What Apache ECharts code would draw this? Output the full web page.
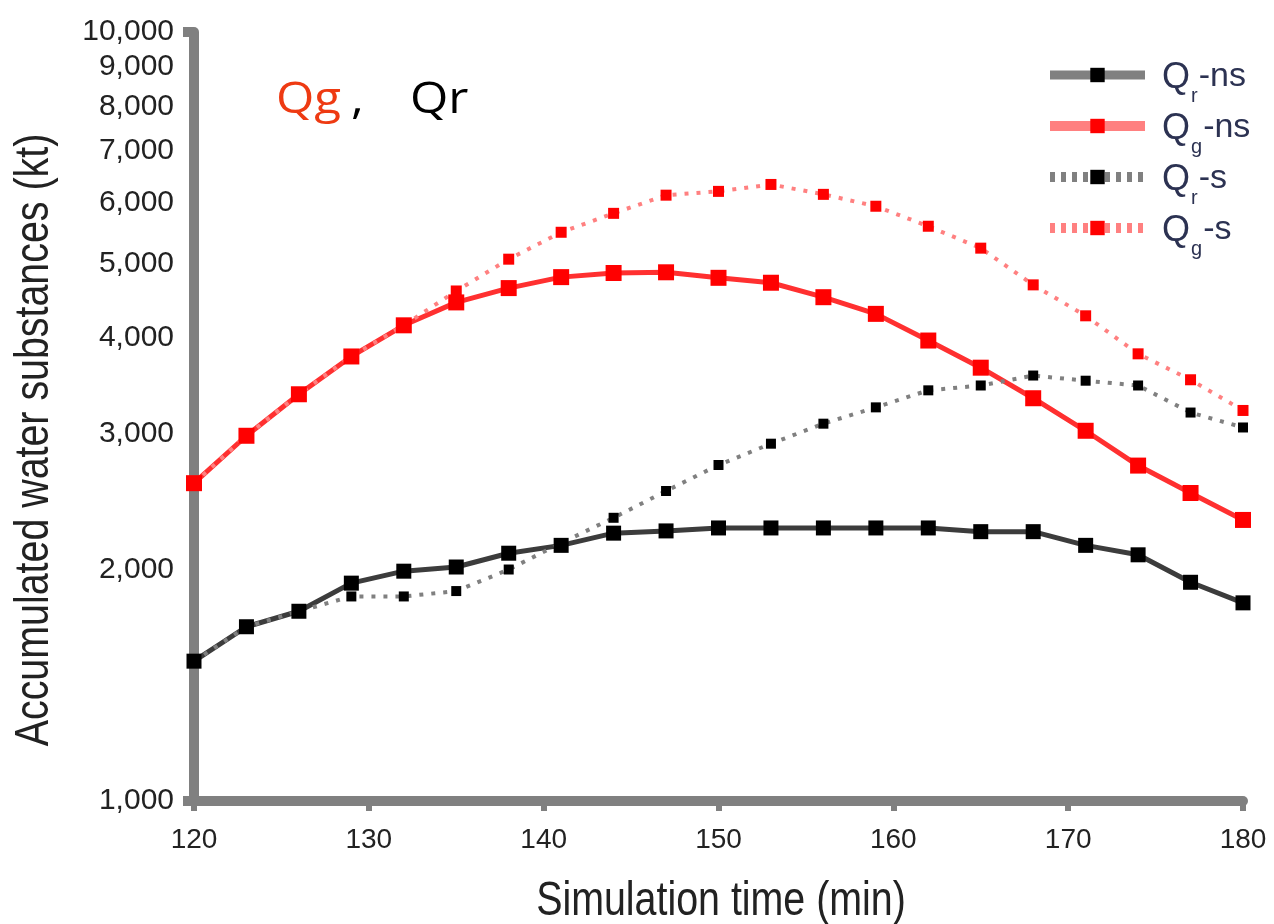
<!DOCTYPE html>
<html>
<head>
<meta charset="utf-8">
<title>Accumulated water substances</title>
<script src="https://cdn.jsdelivr.net/npm/echarts@6/dist/echarts.min.js"></script>
<style>
  html, body { margin: 0; padding: 0; background: #ffffff; }
  #chart { width: 1274px; height: 924px; }
</style>
</head>
<body>
<div id="chart"></div>
<script>
// Simulation time (min)
const times = [120, 123, 126, 129, 132, 135, 138, 141, 144, 147, 150,
               153, 156, 159, 162, 165, 168, 171, 174, 177, 180];

// Accumulated water substances (kt)
const qrNs = [1520, 1685, 1765, 1920, 1990, 2015, 2100, 2150, 2230, 2245, 2265,
              2265, 2265, 2265, 2265, 2240, 2240, 2150, 2090, 1925, 1810];
const qgNs = [2590, 2985, 3380, 3785, 4155, 4450, 4645, 4800, 4860, 4870, 4790,
              4720, 4520, 4300, 3970, 3660, 3340, 3030, 2730, 2515, 2320];
const qrS  = [1520, 1685, 1765, 1845, 1845, 1875, 2000, 2165, 2335, 2530, 2735,
              2915, 3095, 3250, 3420, 3470, 3575, 3520, 3470, 3200, 3060];
const qgS  = [2590, 2985, 3380, 3785, 4155, 4605, 5065, 5490, 5810, 6135, 6205,
              6335, 6150, 5935, 5590, 5235, 4690, 4275, 3815, 3530, 3220];

// Tick labels
const yTickValues = [1000, 2000, 3000, 4000, 5000, 6000, 7000, 8000, 9000, 10000];
const xTickValues = [120, 130, 140, 150, 160, 170, 180];

const SANS = "'Liberation Sans', Arial, sans-serif";
const TITLE_FONT = "'Open Sans', Lato, sans-serif";
const AXIS_GREY = '#808080';
const LEGEND_TEXT = '#2c3252';
// Horizontal squeeze that gives the axis titles a narrow face
const NARROW_SCALE = 0.82;
// Slight horizontal stretch for the "Qg, Qr" caption
const CAPTION_SCALE = 1.12;

const pairs = arr => times.map((t, i) => [t, arr[i]]);

const chart = echarts.init(document.getElementById('chart'), null, { renderer: 'canvas' });

const captionStyle = (text, fill) => ({
  text: text, font: '44px ' + TITLE_FONT, fill: fill,
  align: 'left', verticalAlign: 'middle'
});

const option = {
  animation: false,
  backgroundColor: '#ffffff',
  grid: {
    left: 194, right: 31, top: 32, bottom: 123,
    containLabel: false, outerBoundsMode: 'none'
  },
  xAxis: {
    type: 'value',
    min: xTickValues[0],
    max: xTickValues[xTickValues.length - 1],
    interval: 10,
    axisLine: { lineStyle: { color: AXIS_GREY, width: 10 } },
    axisTick: { length: 10, lineStyle: { color: AXIS_GREY, width: 6 } },
    axisLabel: { fontFamily: SANS, fontSize: 28, color: '#222222', margin: 25 },
    splitLine: { show: false }
  },
  yAxis: {
    type: 'log',
    logBase: 10,
    min: yTickValues[0],
    max: yTickValues[yTickValues.length - 1],
    axisLine: { show: true, lineStyle: { color: AXIS_GREY, width: 10 } },
    axisTick: {
      show: true, length: 11,
      customValues: [yTickValues[0], yTickValues[yTickValues.length - 1]],
      lineStyle: { color: AXIS_GREY, width: 10 }
    },
    axisLabel: {
      customValues: yTickValues,
      formatter: v => Number(v).toLocaleString('en-US'),
      fontFamily: SANS, fontSize: 30, color: '#222222', margin: 20
    },
    splitLine: { show: false },
    minorTick: { show: false }
  },
  legend: {
    orient: 'vertical',
    left: 1040,
    top: 55,
    padding: 5,
    itemWidth: 95,
    itemHeight: 18,
    itemGap: 1,
    data: [
      { name: 'Qr-ns', lineStyle: { color: AXIS_GREY, width: 9 }, itemStyle: { color: '#000000' } },
      { name: 'Qg-ns', lineStyle: { color: '#ff8080', width: 10 }, itemStyle: { color: '#ff0000' } },
      { name: 'Qr-s', lineStyle: { color: AXIS_GREY, width: 10, type: [5, 6] }, itemStyle: { color: '#000000' } },
      { name: 'Qg-s', lineStyle: { color: '#ff8080', width: 10, type: [5, 6] }, itemStyle: { color: '#ff0000' } }
    ],
    // Q with the subscript letter, then the case suffix
    formatter: name => {
      const parts = name.split('-');
      return '{q|Q}{sub|' + parts[0].charAt(1) + '}{t|-' + parts[1] + '}';
    },
    textStyle: {
      padding: [10, 0, 0, 12],
      rich: {
        q: { fontFamily: SANS, fontSize: 36, color: LEGEND_TEXT, lineHeight: 40, verticalAlign: 'top' },
        sub: { fontFamily: SANS, fontSize: 20, color: LEGEND_TEXT, lineHeight: 20, verticalAlign: 'top', padding: [26, 1, 4, 1] },
        t: { fontFamily: SANS, fontSize: 34, color: LEGEND_TEXT, lineHeight: 40, verticalAlign: 'top' }
      }
    }
  },
  graphic: [
    { type: 'text', x: 276, y: 100, scaleX: CAPTION_SCALE, style: captionStyle('Qg', '#ee3a12') },
    { type: 'text', x: 351, y: 100, scaleX: CAPTION_SCALE, style: captionStyle(',', '#000000') },
    { type: 'text', x: 410, y: 100, scaleX: CAPTION_SCALE, style: captionStyle('Qr', '#000000') },
    {
      type: 'text', x: 35, y: 440, rotation: Math.PI / 2, scaleX: NARROW_SCALE,
      style: {
        text: 'Accumulated water substances (kt)',
        font: '48px ' + SANS, fill: '#222222',
        align: 'center', verticalAlign: 'middle'
      }
    },
    {
      type: 'text', x: 721, y: 902, scaleX: NARROW_SCALE,
      style: {
        text: 'Simulation time (min)',
        font: '48px ' + SANS, fill: '#222222',
        align: 'center', verticalAlign: 'middle'
      }
    }
  ],
  series: [
    {
      name: 'Qr-ns', type: 'line', data: pairs(qrNs),
      symbol: 'rect', symbolSize: 15,
      lineStyle: { color: '#3c3c3c', width: 5 },
      itemStyle: { color: '#000000' }
    },
    {
      name: 'Qg-ns', type: 'line', data: pairs(qgNs),
      symbol: 'rect', symbolSize: 16,
      lineStyle: { color: '#ff3030', width: 5 },
      itemStyle: { color: '#ff0000' }
    },
    {
      name: 'Qr-s', type: 'line', data: pairs(qrS),
      symbol: 'rect', symbolSize: 10,
      lineStyle: { color: AXIS_GREY, width: 4, type: [4, 8] },
      itemStyle: { color: '#000000' }
    },
    {
      name: 'Qg-s', type: 'line', data: pairs(qgS),
      symbol: 'rect', symbolSize: 11,
      lineStyle: { color: '#ff8080', width: 4, type: [4, 8] },
      itemStyle: { color: '#ff0000' }
    }
  ]
};

chart.setOption(option);
</script>
</body>
</html>
